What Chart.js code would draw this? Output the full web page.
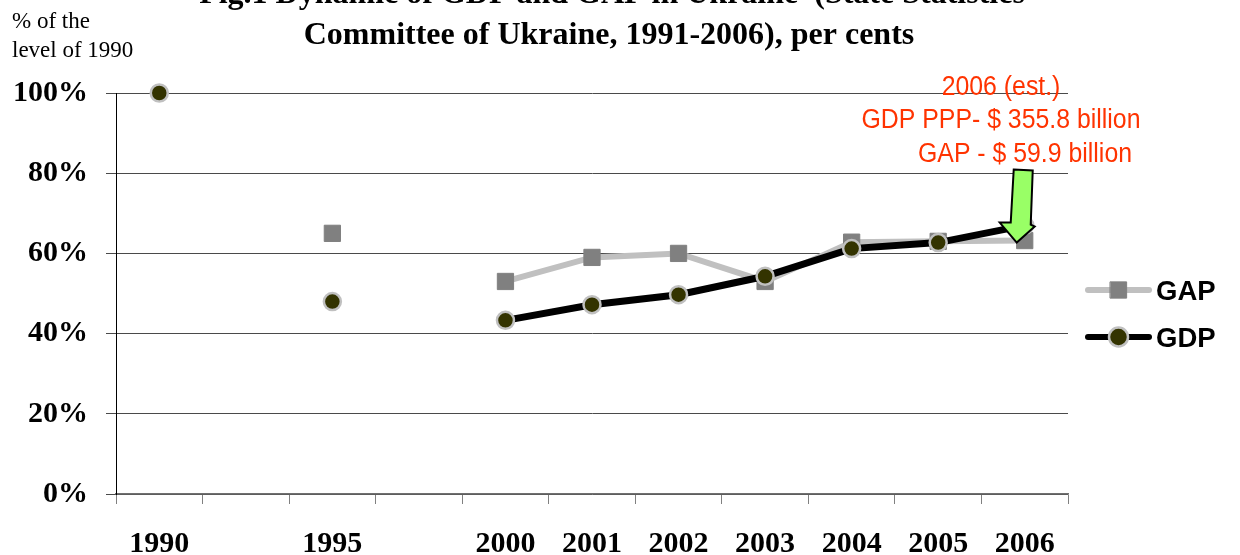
<!DOCTYPE html>
<html>
<head>
<meta charset="utf-8">
<script src="https://cdn.jsdelivr.net/npm/chart.js@4.4.1/dist/chart.umd.min.js"></script>
<style>
  html, body { margin: 0; padding: 0; background: #fff; }
  #wrap { width: 1240px; height: 555px; position: relative; }
</style>
</head>
<body>
<div id="wrap"><canvas id="chart"></canvas></div>
<script>
// categories (blank slots keep the spacing of the original axis)
const years = ["1990", "", "1995", "", "2000", "2001", "2002", "2003", "2004", "2005", "2006"];
// % of the level of 1990
const gdpValues = [100, null, 48, null, 43.3, 47.2, 49.7, 54.3, 61.2, 62.7, 67];
const gapValues = [null, null, 65, null, 53, 59, 60, 53, 62.8, 63, 63.2];

const titleLines = [
  "Fig.1 Dynamic of GDP and GAP in Ukraine  (State Statistics",
  "Committee of Ukraine, 1991-2006), per cents"
];
const unitLines = ["% of the", "level of 1990"];
const noteLines = ["2006 (est.)", "GDP PPP- $ 355.8 billion", "GAP - $ 59.9 billion"];

const SERIF = "'Liberation Serif', 'Times New Roman', serif";
const SANS = "'Liberation Sans', Arial, sans-serif";

// draws narrowed text centred at x
function narrowText(ctx, text, x, y, sx) {
  ctx.save();
  ctx.translate(x, y);
  ctx.scale(sx, 1);
  ctx.fillText(text, 0, 0);
  ctx.restore();
}

// extra text, arrow and legend drawn on top of the chart
const decorPlugin = {
  id: "decor",
  afterDraw(chart) {
    const ctx = chart.ctx;
    const xs = chart.scales.x;
    const ys = chart.scales.y;
    ctx.save();

    // title
    ctx.fillStyle = "#000";
    ctx.font = "bold 32px " + SERIF;
    ctx.textAlign = "center";
    ctx.textBaseline = "alphabetic";
    ctx.fillText(titleLines[0], 612, 3);
    ctx.fillText(titleLines[1], 609, 44);

    // unit text top left
    ctx.font = "23px " + SERIF;
    ctx.textAlign = "left";
    ctx.fillText(unitLines[0], 12, 28);
    ctx.fillText(unitLines[1], 12, 57);

    // red note
    ctx.fillStyle = "#ff3300";
    ctx.font = "27px " + SANS;
    ctx.textAlign = "center";
    narrowText(ctx, noteLines[0], 1001, 95, 0.92);
    narrowText(ctx, noteLines[1], 1001, 128, 0.92);
    narrowText(ctx, noteLines[2], 1025, 162, 0.92);

    // green arrow pointing at the 2006 values
    const tx = xs.getPixelForValue(10) - 8;
    const ty = ys.getPixelForValue(gapValues[10]) + 2;
    const pts = [
      [-3, -73], [16, -72], [14, -18], [18, -16],
      [0, 0], [-17, -20], [-6, -20], [-3, -73]
    ];
    ctx.beginPath();
    pts.forEach(([dx, dy], i) => {
      if (i === 0) ctx.moveTo(tx + dx, ty + dy);
      else ctx.lineTo(tx + dx, ty + dy);
    });
    ctx.closePath();
    ctx.fillStyle = "#99ff66";
    ctx.fill();
    ctx.lineWidth = 2;
    ctx.lineJoin = "miter";
    ctx.strokeStyle = "#000";
    ctx.stroke();

    // legend
    const ds = chart.data.datasets;
    const rows = [
      { ds: ds[1], y: 290, base: 300, r: ds[1].pointRadius },
      { ds: ds[0], y: 337, base: 347, r: 9.5 }
    ];
    rows.forEach(row => {
      ctx.beginPath();
      ctx.lineCap = "round";
      ctx.lineWidth = 6;
      ctx.strokeStyle = row.ds.borderColor;
      ctx.moveTo(1088, row.y);
      ctx.lineTo(1149, row.y);
      ctx.stroke();
      ctx.fillStyle = row.ds.pointBackgroundColor;
      ctx.strokeStyle = row.ds.pointBorderColor;
      ctx.lineWidth = row.ds.pointBorderWidth;
      Chart.helpers.drawPoint(ctx, {
        pointStyle: row.ds.pointStyle,
        radius: row.r,
        borderWidth: row.ds.pointBorderWidth,
        rotation: 0
      }, 1118.5, row.y);
      ctx.fillStyle = "#000";
      ctx.font = "bold 27.5px " + SANS;
      ctx.textAlign = "left";
      ctx.fillText(row.ds.label, 1156, row.base);
    });

    ctx.restore();
  }
};

new Chart(document.getElementById("chart"), {
  type: "line",
  data: {
    labels: years,
    datasets: [
      {
        label: "GDP",
        data: gdpValues,
        borderColor: "#000000",
        borderWidth: 7,
        pointStyle: "circle",
        pointRadius: 8.5,
        pointBorderWidth: 2.5,
        pointBackgroundColor: "#333300",
        pointBorderColor: "#c0c0c0",
        spanGaps: false,
        clip: false
      },
      {
        label: "GAP",
        data: gapValues,
        borderColor: "#c0c0c0",
        borderWidth: 6,
        pointStyle: "rect",
        pointRadius: 11.5,
        pointBorderWidth: 1,
        pointBackgroundColor: "#808080",
        pointBorderColor: "#808080",
        spanGaps: false,
        clip: false
      }
    ]
  },
  options: {
    responsive: true,
    maintainAspectRatio: false,
    animation: false,
    layout: { padding: { top: 93, right: 172, left: 0, bottom: 0 } },
    plugins: {
      legend: { display: false },
      title: { display: false },
      tooltip: { enabled: false }
    },
    scales: {
      x: {
        offset: true,
        grid: {
          offset: true,
          drawOnChartArea: false,
          drawTicks: true,
          tickLength: 10,
          color: "#808080"
        },
        border: { display: true, color: "#707070", width: 1.5 },
        ticks: {
          autoSkip: false,
          maxRotation: 0,
          padding: 22,
          color: "#000",
          font: { family: SERIF, size: 30, weight: "bold" }
        },
        afterFit(scale) { scale.height = 61; }
      },
      y: {
        min: 0,
        max: 100,
        ticks: {
          stepSize: 20,
          padding: 18,
          color: "#000",
          font: { family: SERIF, size: 30, weight: "bold" },
          callback: v => v + "%"
        },
        grid: {
          color: "#4a4a4a",
          lineWidth: 1,
          drawTicks: true,
          tickLength: 10
        },
        border: { display: true, color: "#000", width: 1 },
        afterFit(scale) { scale.width = 116; }
      }
    }
  },
  plugins: [decorPlugin]
});
</script>
</body>
</html>
